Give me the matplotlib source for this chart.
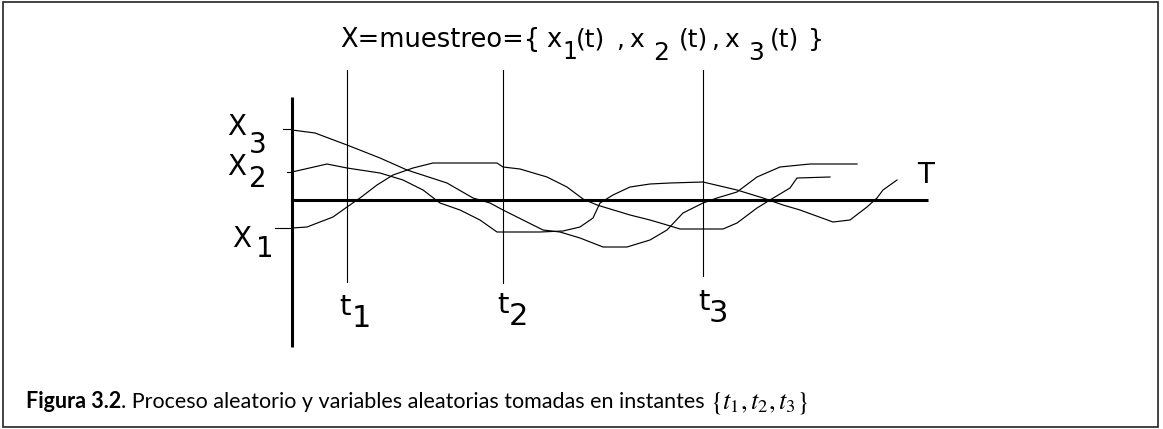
import matplotlib
matplotlib.use("Agg")
import matplotlib.pyplot as plt
from matplotlib.patches import Rectangle

plt.rcParams['mathtext.fontset'] = 'stix'

# ---------------- data (diagram units: t = time from vertical axis, a = amplitude above T) ----
x1_t = [0, 15, 41, 55, 68, 85, 101, 121, 141, 205, 211, 228, 255, 275, 291, 305, 338, 358,
        375, 388, 431, 445, 465, 478, 498, 505, 538]
x1_a = [-28, -27, -17, -7, 2, 15, 25, 32, 37, 37, 33, 31, 23, 13, 1, -5, -15, -20,
        -25, -29, -29, -23, -8, 0, 12, 22, 23]

x2_t = [0, 35, 55, 88, 111, 131, 148, 168, 188, 205, 248, 271, 288, 301, 308, 321, 338, 358,
        378, 411, 445, 471, 491, 508, 541, 558, 575, 585, 591, 605]
x2_a = [28, 36, 32, 27, 20, 10, -3, -10, -20, -32, -32, -31, -27, -18, -3, 5, 13, 16,
        17, 18, 10, 2, -5, -10, -22, -20, -7, 2, 10, 20]

x3_t = [0, 23, 55, 88, 115, 155, 181, 198, 211, 231, 251, 268, 288, 311, 335, 358, 375, 391,
        411, 425, 445, 465, 488, 518, 565]
x3_a = [70, 67, 55, 42, 30, 17, 2, -3, -10, -20, -30, -32, -38, -47, -47, -40, -30, -13,
        -3, 2, 8, 23, 33, 36, 36]

sample_times = [55, 211, 411]
sample_labels = ['t', 't', 't']
sample_subs = ['1', '2', '3']
level_values = [-28, 28, 71]
level_subs = ['1', '2', '3']

title_parts = ['X=muestreo={', 'x', '1', '(t)', ',', 'x', '2', '(t)', ',', 'x', '3', '(t)', '}']
caption_bold = 'Figura 3.2'
caption_text = '. Proceso aleatorio y variables aleatorias tomadas en instantes '
caption_math = r'$\{t_1, t_2, t_3\}$'

# ---------------- figure ----------------
W, H = 1163, 429
OX, OY = 292, 200          # pixel position of the diagram origin
fig = plt.figure(figsize=(W / 100, H / 100), dpi=100)
ax = fig.add_axes([0, 0, 1, 1])
ax.set_xlim(-OX, W - OX)
ax.set_ylim(-(H - OY), OY)
ax.axis('off')


def P(x, y):
    """absolute pixel (from top-left) -> diagram coordinates"""
    return x - OX, OY - y


DIAG = 'DejaVu Sans'
curve_lw = 0.85

# border
fig.patches.append(Rectangle((3 / W, 2 / H), (1158 - 3) / W, (427 - 2) / H,
                             transform=fig.transFigure, fill=False,
                             edgecolor='#222222', lw=1.2))

# axes of the diagram
ax.plot([0, 636], [0, 0], color='black', lw=2.2, solid_capstyle='butt')
ax.plot([0, 0], [103, -147], color='black', lw=2.2, solid_capstyle='butt')

# sampling instants
bottoms = [-82, -83, -76]
for t, b in zip(sample_times, bottoms):
    ax.plot([t, t], [130, b], color='black', lw=0.8)

# level ticks
tick_starts = [-17, -5, -9]
for v, s in zip(level_values, tick_starts):
    ax.plot([s, 0], [v, v], color='black', lw=0.8)

# sample functions
for tt, aa in [(x1_t, x1_a), (x2_t, x2_a), (x3_t, x3_a)]:
    ax.plot(tt, aa, color='black', lw=curve_lw, solid_joinstyle='miter')

# labels X_i
X_pos = {'1': (232, 247, 256, 257), '2': (227, 175, 249, 187), '3': (227, 135, 249, 153)}
for sub in level_subs:
    xl, yb, xs, ys = X_pos[sub]
    ax.text(*P(xl, yb), 'X', fontsize=20, family=DIAG, ha='left', va='baseline')
    ax.text(*P(xs, ys), sub, fontsize=20, family=DIAG, ha='left', va='baseline')

# labels t_i
t_pos = [(339, 315, 352, 327), (497, 313, 509, 325), (698, 310, 709, 322)]
for lab, sub, (xl, yb, xs, ys) in zip(sample_labels, sample_subs, t_pos):
    ax.text(*P(xl, yb), lab, fontsize=21, family=DIAG, ha='left', va='baseline')
    ax.text(*P(xs, ys), sub, fontsize=22, family=DIAG, ha='left', va='baseline')

# T label
ax.text(*P(917, 183), 'T', fontsize=20, family=DIAG, ha='left', va='baseline')

# title
title_x = [340, 546, 562, 576, 616, 629, 653, 679, 711, 724, 748, 770, 808]
title_y = [47, 47, 59, 47, 47, 47, 60, 47, 47, 47, 60, 47, 47]
title_fs = [18.5, 18.5, 17, 18, 18, 18, 18, 18, 18, 18, 18, 18, 18]
for s, xx, yy, fs in zip(title_parts, title_x, title_y, title_fs):
    ax.text(*P(xx, yy), s, fontsize=fs, family=DIAG, ha='left', va='baseline')

# caption (chained pieces)
fig.canvas.draw()
r = fig.canvas.get_renderer()
cap_fs = 15.5
x = 26
pieces = [(caption_bold, 'bold', cap_fs), (caption_text, 'normal', cap_fs),
          (caption_math, 'normal', cap_fs * 1.22)]
for txt, wt, fs in pieces:
    tobj = ax.text(*P(x, 408), txt, fontsize=fs, family='Lato', weight=wt,
                   ha='left', va='baseline')
    bb = tobj.get_window_extent(renderer=r)
    x += bb.width

fig.savefig('out.png', dpi=100)
